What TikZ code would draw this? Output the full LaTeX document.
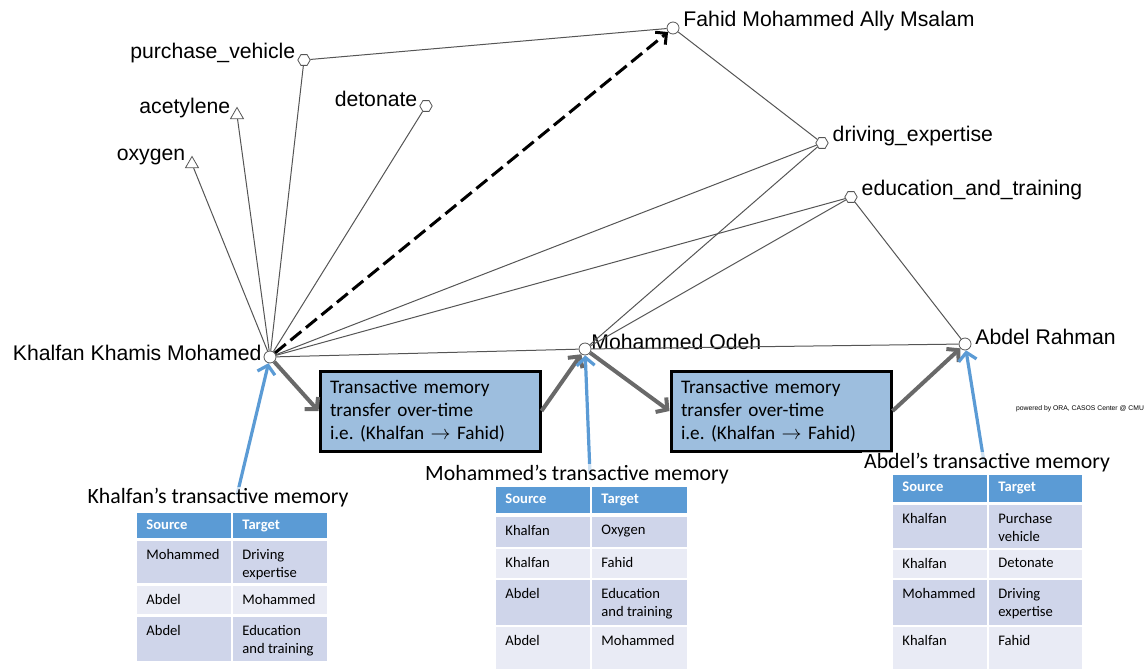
\documentclass[tikz,border=0pt]{standalone}
\usepackage{fontspec}
\setmainfont{Carlito}
\newfontfamily\orafont{Liberation Sans}
\usetikzlibrary{arrows.meta,shapes.geometric}

\definecolor{boxblue}{RGB}{157,190,222}
\definecolor{hdrblue}{RGB}{91,155,213}
\definecolor{banddark}{RGB}{207,213,234}
\definecolor{bandlight}{RGB}{233,235,245}
\definecolor{linkgray}{RGB}{85,85,85}
\definecolor{flowgray}{RGB}{105,105,105}

\begin{document}
\begin{tikzpicture}[
	x=0.5pt, y=-0.5pt,
	agent/.style={circle, draw=linkgray, fill=white, inner sep=0pt, minimum size=6pt},
	knowledge/.style={regular polygon, regular polygon sides=6, draw=linkgray, fill=white, inner sep=0pt, minimum size=6.2pt},
	resource/.style={regular polygon, regular polygon sides=3, draw=linkgray, fill=white, inner sep=0pt, minimum size=7.5pt},
	lblL/.style={font=\orafont\fontsize{10.6}{12}\selectfont, xshift=2.5pt, yshift=3.5pt},
	lblR/.style={font=\orafont\fontsize{10.6}{12}\selectfont, xshift=-1.5pt, yshift=3.5pt},
	tie/.style={linkgray, line width=0.5pt},
	transfer/.style={black, line width=1.5pt, dash pattern=on 7pt off 3pt, -{Straight Barb[length=4pt,width=8pt]}},
	flow/.style={flowgray, line width=2pt, -{Straight Barb[length=4pt,width=9pt]}},
	recall/.style={hdrblue, line width=1.6pt, -{Straight Barb[length=4pt,width=9pt]}},
	tmbox/.style={draw=black, line width=1.5pt, fill=boxblue, minimum width=110pt, minimum height=40pt,
		text width=100pt, align=left, font=\fontsize{9.6}{11.5}\selectfont},
	caption/.style={font=\fontsize{10.9}{13}\selectfont, fill=white, fill opacity=0.7, text opacity=1, inner sep=1pt},
	cell/.style={anchor=north west, align=left, inner xsep=4.5pt, inner ysep=4pt, font=\fontsize{7.3}{8.8}\selectfont},
	hcell/.style={cell, inner ysep=3.2pt, text=white, font=\bfseries\fontsize{7.3}{8.8}\selectfont},
]
\useasboundingbox (0,0) rectangle (1144,669);

% network
\node[agent, label={[lblR]right:Fahid Mohammed Ally Msalam}] (fahid) at (673,28) {};
\node[knowledge, label={[lblL]left:purchase\_vehicle}] (purchase) at (304,60) {};
\node[knowledge, label={[lblL]left:detonate}] (detonate) at (426,106) {};
\node[resource, label={[lblL]left:acetylene}] (acetylene) at (237,115) {};
\node[resource, label={[lblL]left:oxygen}] (oxygen) at (192,164) {};
\node[knowledge, label={[lblR]right:driving\_expertise}] (driving) at (822,143) {};
\node[knowledge, label={[lblR]right:education\_and\_training}] (education) at (851,197) {};
\node[agent, label={[lblL, yshift=-1.5pt]left:Khalfan Khamis Mohamed}] (khalfan) at (270,357) {};
\node[agent, label={[lblR, xshift=-2pt]right:Mohammed Odeh}] (mohammed) at (585,349) {};
\node[agent, label={[lblR]right:Abdel Rahman}] (abdel) at (965,344) {};

\foreach \a/\b in {khalfan/oxygen, khalfan/acetylene, khalfan/purchase, khalfan/detonate,
	khalfan/driving, khalfan/education, khalfan/mohammed, purchase/fahid, fahid/driving,
	mohammed/driving, mohammed/education, mohammed/abdel, education/abdel} {
	\draw[tie] (\a) -- (\b);
}
\draw[transfer] (khalfan) -- (fahid);

\node[font=\orafont\fontsize{3.4}{4}\selectfont] (ora) at (1080,409) {powered by ORA, CASOS Center @ CMU};

% transfer boxes
\node[tmbox] (box1) at (430,411) {Transactive memory\\transfer over-time\\i.e.\ (Khalfan $\rightarrow$ Fahid)};
\node[tmbox] (box2) at (781,411) {Transactive memory\\transfer over-time\\i.e.\ (Khalfan $\rightarrow$ Fahid)};

\draw[flow] (khalfan) -- (box1.west);
\draw[flow] (box1.east) -- (mohammed);
\draw[flow] (mohammed) -- (box2.west);
\draw[flow] (box2.east) -- (abdel);

% memory arrows, captions on top
\coordinate (ktail) at (237,495);
\coordinate (mtail) at (590,474);
\coordinate (atail) at (984,462);
\draw[recall] (ktail) -- (khalfan);
\draw[recall] (mtail) -- (mohammed);
\draw[recall] (atail) -- (abdel);

\node[caption] (kcap) at (218,498) {Khalfan’s transactive memory};
\node[caption] (mcap) at (577,475) {Mohammed’s transactive memory};
\node[caption] (acap) at (987,463) {Abdel’s transactive memory};

% Khalfan's table
\fill[hdrblue] (137,513) rectangle (231,538);
\fill[hdrblue] (233,513) rectangle (327,538);
\node[hcell] (k-sh) at (137,513) {Source};
\node[hcell] (k-th) at (233,513) {Target};
\foreach \src/\tgt/\ytop/\ybot/\band [count=\r] in {
	Mohammed/{Driving\\expertise}/541/583/banddark,
	Abdel/Mohammed/586/614/bandlight,
	Abdel/{Education\\and training}/617/661/banddark} {
	\fill[\band] (137,\ytop) rectangle (231,\ybot);
	\fill[\band] (233,\ytop) rectangle (327,\ybot);
	\node[cell] (k-s\r) at (137,\ytop) {\src};
	\node[cell] (k-t\r) at (233,\ytop) {\tgt};
}

% Mohammed's table
\fill[hdrblue] (496,487) rectangle (590,513);
\fill[hdrblue] (592,487) rectangle (687,513);
\node[hcell] (m-sh) at (496,487) {Source};
\node[hcell] (m-th) at (592,487) {Target};
\foreach \src/\tgt/\ytop/\ybot/\band [count=\r] in {
	Khalfan/Oxygen/517/547/banddark,
	Khalfan/Fahid/549/578/bandlight,
	Abdel/{Education\\and training}/580/625/banddark,
	Abdel/Mohammed/627/669/bandlight} {
	\fill[\band] (496,\ytop) rectangle (590,\ybot);
	\fill[\band] (592,\ytop) rectangle (687,\ybot);
	\node[cell] (m-s\r) at (496,\ytop) {\src};
	\node[cell] (m-t\r) at (592,\ytop) {\tgt};
}

% Abdel's table
\fill[hdrblue] (893,475) rectangle (987,502);
\fill[hdrblue] (989,475) rectangle (1082,502);
\node[hcell] (a-sh) at (893,475) {Source};
\node[hcell] (a-th) at (989,475) {Target};
\foreach \src/\tgt/\ytop/\ybot/\band [count=\r] in {
	Khalfan/{Purchase\\vehicle}/505/548/banddark,
	Khalfan/Detonate/550/578/bandlight,
	Mohammed/{Driving\\expertise}/580/625/banddark,
	Khalfan/Fahid/627/669/bandlight} {
	\fill[\band] (893,\ytop) rectangle (987,\ybot);
	\fill[\band] (989,\ytop) rectangle (1082,\ybot);
	\node[cell] (a-s\r) at (893,\ytop) {\src};
	\node[cell] (a-t\r) at (989,\ytop) {\tgt};
}

\end{tikzpicture}
\end{document}
